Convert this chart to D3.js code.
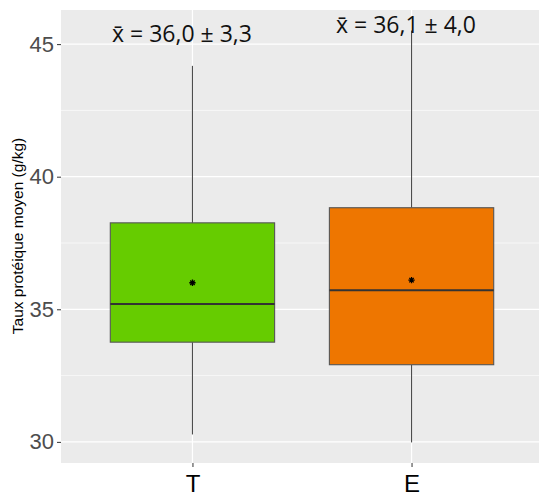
<!DOCTYPE html>
<html>
<head>
<meta charset="utf-8">
<script src="https://cdn.jsdelivr.net/npm/d3@7"></script>
<style>
  html, body { margin: 0; padding: 0; background: #fff; }
  svg { display: block; }
</style>
</head>
<body>
<svg id="chart" width="539" height="492"></svg>
<script>
// Protein content per group: box statistics
const groups = ["T", "E"];
const whiskerLow = [30.28, 29.98];
const q1 = [33.76, 32.91];
const median = [35.20, 35.72];
const q3 = [38.26, 38.83];
const whiskerHigh = [44.18, 45.51];
const means = [36.0, 36.1];
const sds = [3.3, 4.0];
const fills = ["#66CC00", "#EE7600"];
const yTicks = [30, 35, 40, 45];
const yMinor = [32.5, 37.5, 42.5];
const yTitle = "Taux protéique moyen (g/kg)";

const fmt = v => v.toFixed(1).replace(".", ",");

const svg = d3.select("#chart");
const panel = { left: 61, right: 543, top: 10, bottom: 463 };

// ggplot-like expansion of the continuous range (5 %)
const dMin = d3.min(whiskerLow), dMax = d3.max(whiskerHigh);
const pad = (dMax - dMin) * 0.05;
const y = d3.scaleLinear().domain([dMin - pad, dMax + pad]).range([panel.bottom, panel.top]);

// discrete scale: 0.6 units of expansion on each side
const x = d3.scalePoint().domain(groups).range([panel.left, panel.right]).padding(0.6);
const boxW = x.step() * 0.75;

// panel background
svg.append("rect")
  .attr("x", panel.left).attr("y", panel.top)
  .attr("width", panel.right - panel.left).attr("height", panel.bottom - panel.top)
  .attr("fill", "#EBEBEB");

const grid = svg.append("g");
grid.selectAll(".minor").data(yMinor).join("line")
  .attr("x1", panel.left).attr("x2", panel.right)
  .attr("y1", d => y(d)).attr("y2", d => y(d))
  .attr("stroke", "#fff").attr("stroke-width", 0.6);
grid.selectAll(".major").data(yTicks).join("line")
  .attr("x1", panel.left).attr("x2", panel.right)
  .attr("y1", d => y(d)).attr("y2", d => y(d))
  .attr("stroke", "#fff").attr("stroke-width", 1.2);
grid.selectAll(".vmajor").data(groups).join("line")
  .attr("x1", d => x(d)).attr("x2", d => x(d))
  .attr("y1", panel.top).attr("y2", panel.bottom)
  .attr("stroke", "#fff").attr("stroke-width", 1.2);

// boxes with whiskers
const boxes = svg.append("g").selectAll("g").data(groups).join("g");
boxes.append("line")
  .attr("x1", d => x(d)).attr("x2", d => x(d))
  .attr("y1", (d, i) => y(whiskerHigh[i])).attr("y2", (d, i) => y(q3[i]))
  .attr("stroke", "#4d4d4d").attr("stroke-width", 1.1);
boxes.append("line")
  .attr("x1", d => x(d)).attr("x2", d => x(d))
  .attr("y1", (d, i) => y(q1[i])).attr("y2", (d, i) => y(whiskerLow[i]))
  .attr("stroke", "#4d4d4d").attr("stroke-width", 1.1);
boxes.append("rect")
  .attr("x", d => x(d) - boxW / 2).attr("width", boxW)
  .attr("y", (d, i) => y(q3[i])).attr("height", (d, i) => y(q1[i]) - y(q3[i]))
  .attr("fill", (d, i) => fills[i])
  .attr("stroke", "#555").attr("stroke-width", 1.1);
boxes.append("line")
  .attr("x1", d => x(d) - boxW / 2).attr("x2", d => x(d) + boxW / 2)
  .attr("y1", (d, i) => y(median[i])).attr("y2", (d, i) => y(median[i]))
  .attr("stroke", "#333").attr("stroke-width", 2);

// mean markers (asterisk)
const asterisk = {
  draw(ctx, size) {
    const r = Math.sqrt(size) / 2;
    for (let k = 0; k < 4; k++) {
      const a = k * Math.PI / 4;
      ctx.moveTo(-r * Math.cos(a), -r * Math.sin(a));
      ctx.lineTo(r * Math.cos(a), r * Math.sin(a));
    }
  }
};
boxes.append("path")
  .attr("d", d3.symbol().type(asterisk).size(40)())
  .attr("transform", (d, i) => `translate(${x(d)},${y(means[i])})`)
  .attr("stroke", "#000").attr("stroke-width", 1.3).attr("fill", "none");

// mean ± sd annotations
const labelShift = [-10.5, -5.5];
const labelBase = [41.5, 33];
svg.append("g").selectAll("text").data(groups).join("text")
  .attr("x", (d, i) => x(d) + labelShift[i])
  .attr("y", (d, i) => labelBase[i])
  .attr("text-anchor", "middle")
  .attr("font-family", "'Open Sans', sans-serif")
  .attr("font-size", 23)
  .attr("fill", "#111")
  .text((d, i) => `x\u0304 = ${fmt(means[i])} ± ${fmt(sds[i])}`);

// y axis
const yAxis = svg.append("g")
  .attr("transform", `translate(${panel.left},0)`)
  .call(d3.axisLeft(y).tickValues(yTicks).tickSize(4).tickPadding(3).tickFormat(d3.format("d")));
yAxis.select(".domain").remove();
yAxis.selectAll(".tick line").attr("stroke", "#333");
yAxis.selectAll(".tick text")
  .attr("font-family", "'Liberation Sans', Arial, sans-serif")
  .attr("font-size", 22).attr("fill", "#4d4d4d");

// x axis
const xAxis = svg.append("g")
  .attr("transform", `translate(0,${panel.bottom})`)
  .call(d3.axisBottom(x).tickSize(4).tickPadding(8));
xAxis.select(".domain").remove();
xAxis.selectAll(".tick line").attr("stroke", "#333");
xAxis.selectAll(".tick text")
  .attr("font-family", "'Liberation Sans', Arial, sans-serif")
  .attr("font-size", 24).attr("fill", "#000");

// y title
svg.append("text")
  .attr("transform", `translate(23,236) rotate(-90)`)
  .attr("text-anchor", "middle")
  .attr("font-family", "'Liberation Sans', Arial, sans-serif")
  .attr("font-size", 15.5).attr("fill", "#000")
  .text(yTitle);
</script>
</body>
</html>
